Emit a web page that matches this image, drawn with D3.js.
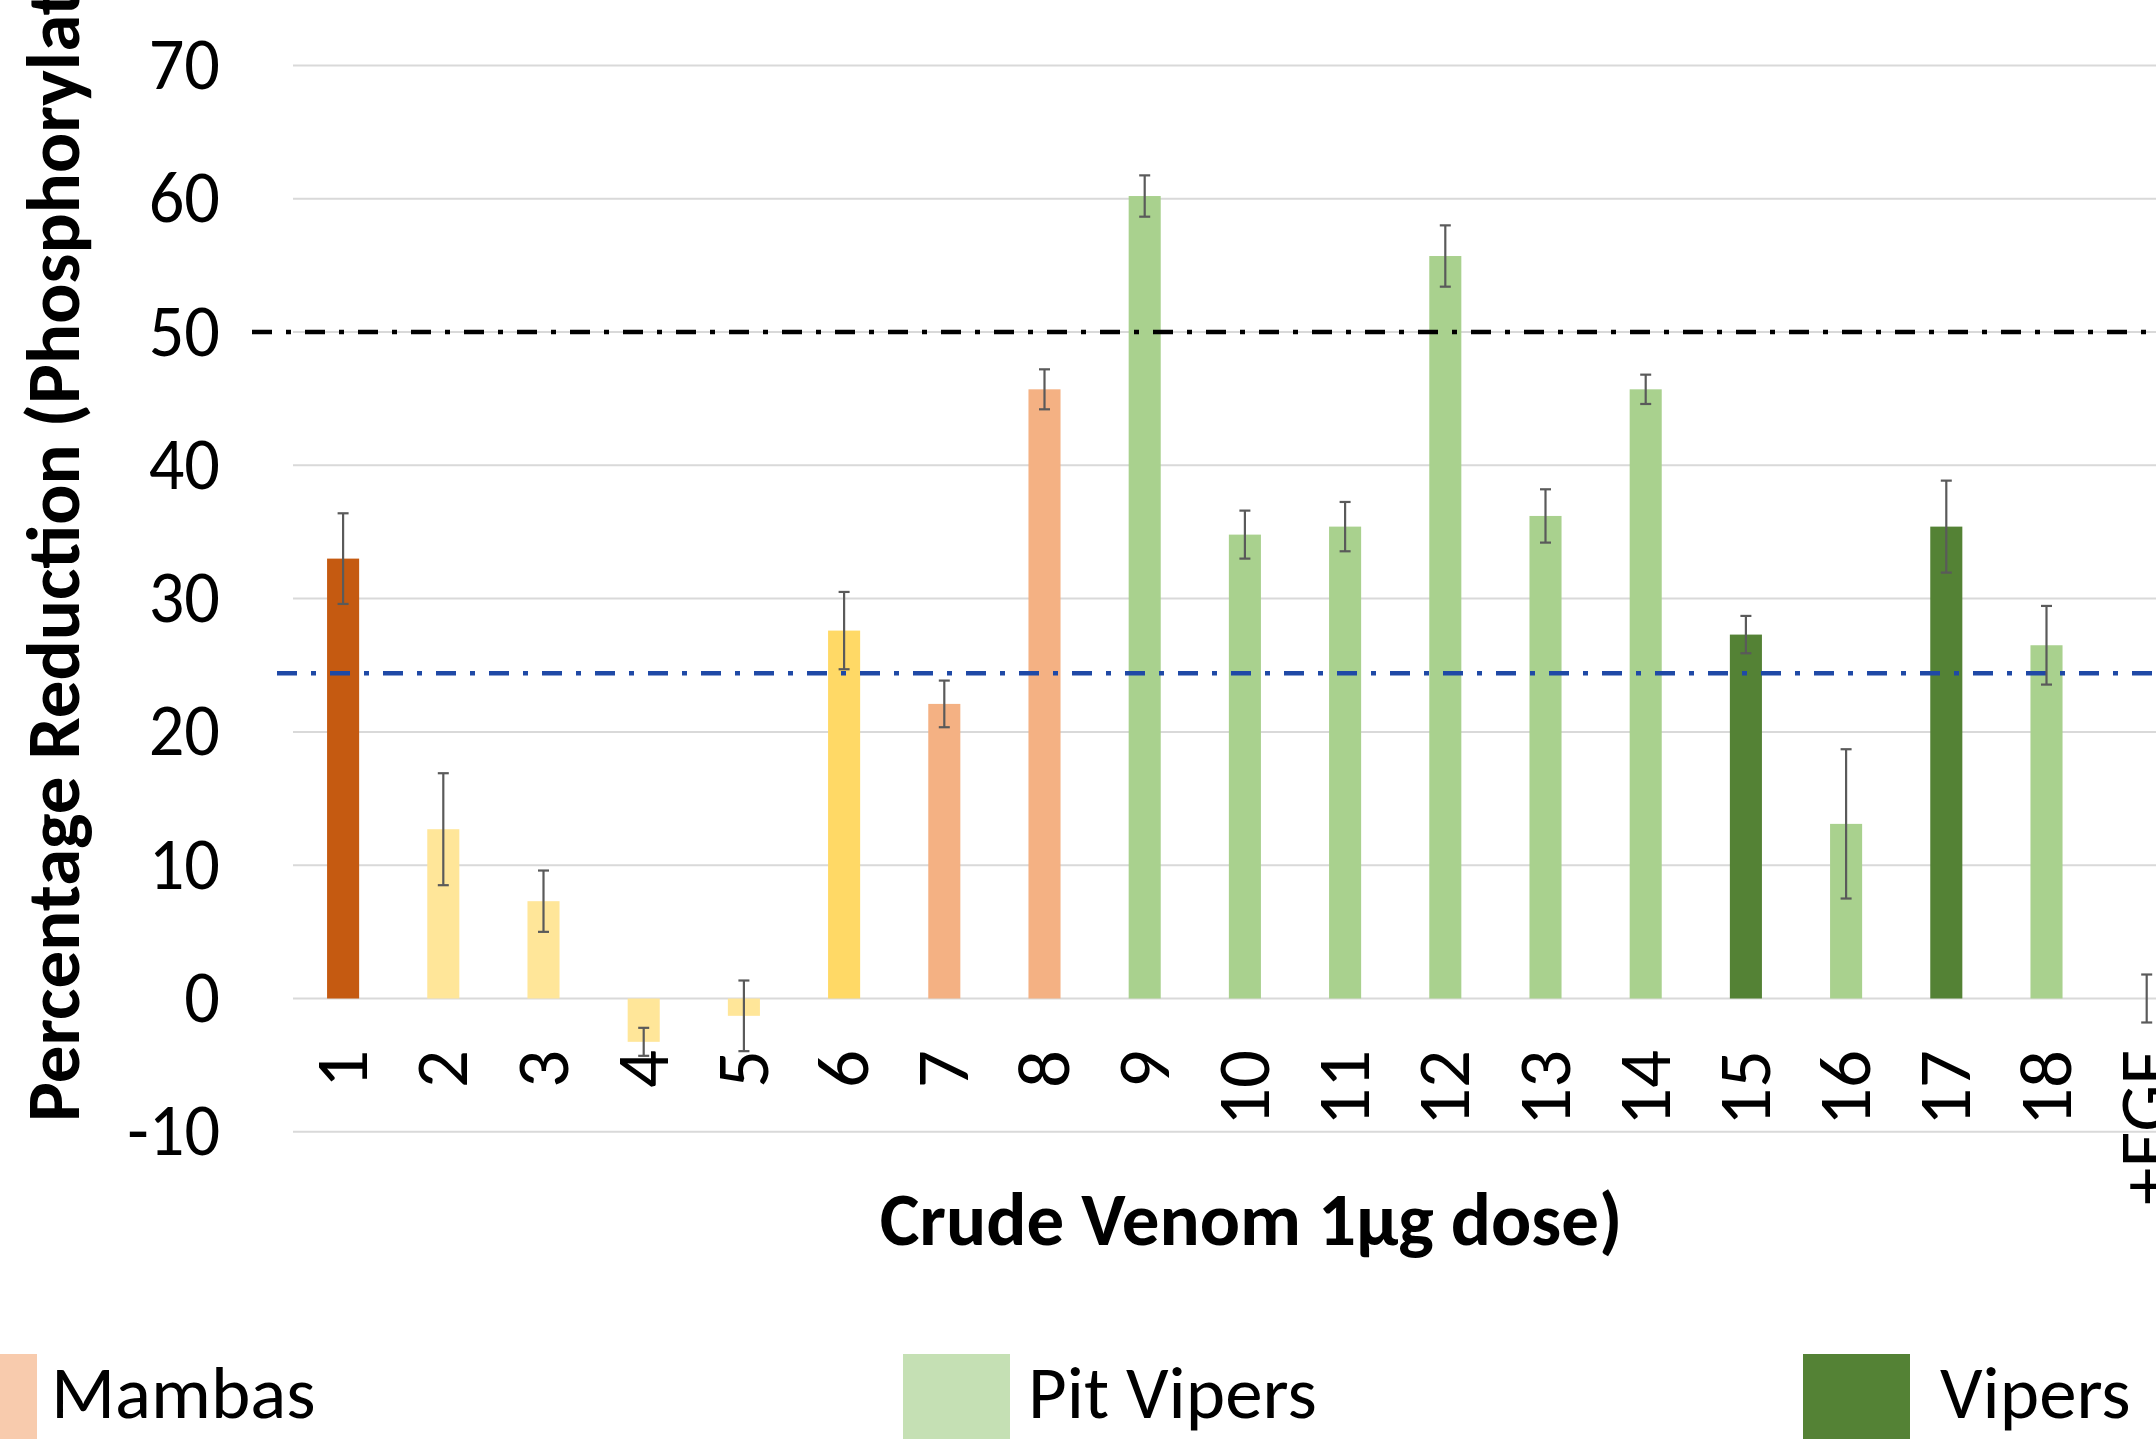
<!DOCTYPE html>
<html>
<head>
<meta charset="utf-8">
<script src="https://cdn.jsdelivr.net/npm/d3@7/dist/d3.min.js"></script>
<style>
  html, body { margin: 0; padding: 0; background: #ffffff; overflow: hidden; }
  svg { display: block; }
  text { font-family: Carlito, Calibri, Lato, "Open Sans", sans-serif; fill: #000; }
</style>
</head>
<body>
<svg id="chart" width="2156" height="1439"></svg>
<script>
// Venom samples on the x axis
const categories = ["1","2","3","4","5","6","7","8","9","10","11","12","13","14","15","16","17","18","+EGF"];
// Mean percentage reduction per sample
const values = [33.0, 12.7, 7.3, -3.25, -1.3, 27.6, 22.1, 45.7, 60.2, 34.8, 35.4, 55.7, 36.2, 45.7, 27.3, 13.1, 35.4, 26.5, 0];
// Error bar half-widths
const errors = [3.4, 4.2, 2.3, 1.05, 2.65, 2.9, 1.75, 1.5, 1.55, 1.8, 1.85, 2.3, 2.0, 1.1, 1.4, 5.6, 3.45, 2.95, 1.8];
// Snake group of each sample
const groups = ["elapidA","elapidB","elapidB","elapidB","elapidB","elapidC","mamba","mamba",
                "pitViper","pitViper","pitViper","pitViper","pitViper","pitViper","viper","pitViper","viper","pitViper","control"];
// Y axis tick values
const yTicks = [-10, 0, 10, 20, 30, 40, 50, 60, 70, 80];
// Horizontal reference levels (threshold, baseline)
const refLevels = [50, 24.4];
// Legend entries
const legendLabels = ["Mambas", "Pit Vipers", "Vipers"];
const legendColors = ["#F8CBAD", "#C5E0B4", "#548235"];

const groupColor = {
  elapidA: "#C55A11",
  elapidB: "#FFE699",
  elapidC: "#FFD966",
  mamba: "#F4B183",
  pitViper: "#A9D18E",
  viper: "#548235",
  control: "#A9D18E"
};

const svg = d3.select("#chart");
const W = 2156, H = 1439;
svg.append("rect").attr("width", W).attr("height", H).attr("fill", "#fff");

const plotLeft = 293, step = 100.2;
const plotRight = plotLeft + step * categories.length;

const x = d3.scaleBand()
  .domain(categories)
  .range([plotLeft, plotRight])
  .paddingInner(0.68)
  .paddingOuter(0.34);

const y = d3.scaleLinear()
  .domain([-10, 80])
  .range([1131.8, 998.5 - 80 * 13.33]);

// Gridlines
svg.append("g").selectAll("line").data(yTicks).join("line")
  .attr("x1", plotLeft).attr("x2", plotRight)
  .attr("y1", d => y(d)).attr("y2", d => y(d))
  .attr("stroke", "#D9D9D9").attr("stroke-width", 2);

// Y tick labels
svg.append("g").selectAll("text").data(yTicks).join("text")
  .attr("transform", d => `translate(220,${y(d) + 23.5}) scale(0.95,1)`)
  .attr("text-anchor", "end")
  .attr("font-size", 74)
  .text(d => d);

// Bars
const idx = d3.range(categories.length);
svg.append("g").selectAll("rect").data(idx.filter(i => values[i] !== 0)).join("rect")
  .attr("x", i => x(categories[i]))
  .attr("width", x.bandwidth())
  .attr("y", i => y(Math.max(0, values[i])))
  .attr("height", i => Math.abs(y(values[i]) - y(0)))
  .attr("fill", i => groupColor[groups[i]]);

// Reference lines (dash-dot)
const refStyle = [
  { color: "#000000", start: 252 },
  { color: "#1F49A6", start: 277 }
];
svg.append("g").selectAll("line").data(refLevels).join("line")
  .attr("x1", (d, i) => refStyle[i].start).attr("x2", W + 50)
  .attr("y1", d => y(d)).attr("y2", d => y(d))
  .attr("stroke", (d, i) => refStyle[i].color)
  .attr("stroke-width", 4.7)
  .attr("stroke-dasharray", "20 14 5 14");

// Error bars
const eb = svg.append("g").attr("stroke", "#5A5A5A").attr("stroke-width", 2.2);
idx.forEach(i => {
  const cx = x(categories[i]) + x.bandwidth() / 2;
  const y1 = y(values[i] + errors[i]), y2 = y(values[i] - errors[i]);
  eb.append("line").attr("x1", cx).attr("x2", cx).attr("y1", y1).attr("y2", y2);
  eb.append("line").attr("x1", cx - 5.5).attr("x2", cx + 5.5).attr("y1", y1).attr("y2", y1);
  eb.append("line").attr("x1", cx - 5.5).attr("x2", cx + 5.5).attr("y1", y2).attr("y2", y2);
});

// X tick labels, rotated
svg.append("g").selectAll("text").data(categories).join("text")
  .attr("transform", d => `translate(${x(d) + x.bandwidth() / 2 + 24},1050) rotate(-90)`)
  .attr("text-anchor", "end")
  .attr("font-size", 75)
  .text(d => d);

// Axis titles
svg.append("text")
  .attr("transform", "translate(1251,1245)")
  .attr("text-anchor", "middle")
  .attr("font-size", 75)
  .attr("font-weight", 700)
  .text("Crude Venom 1µg dose)");

svg.append("text")
  .attr("transform", "translate(79,1122) rotate(-90)")
  .attr("text-anchor", "start")
  .attr("font-size", 75)
  .attr("font-weight", 700)
  .text("Percentage Reduction (Phosphorylation)");

// Legend
const legendX = [-70, 903, 1803];
const legendGap = [14, 18, 30];
const lg = svg.append("g");
legendLabels.forEach((lab, i) => {
  lg.append("rect")
    .attr("x", legendX[i]).attr("y", 1354)
    .attr("width", 107).attr("height", 107)
    .attr("fill", legendColors[i]);
  lg.append("text")
    .attr("transform", `translate(${legendX[i] + 107 + legendGap[i]},1418)`)
    .attr("font-size", 75)
    .text(lab);
});
</script>
</body>
</html>
